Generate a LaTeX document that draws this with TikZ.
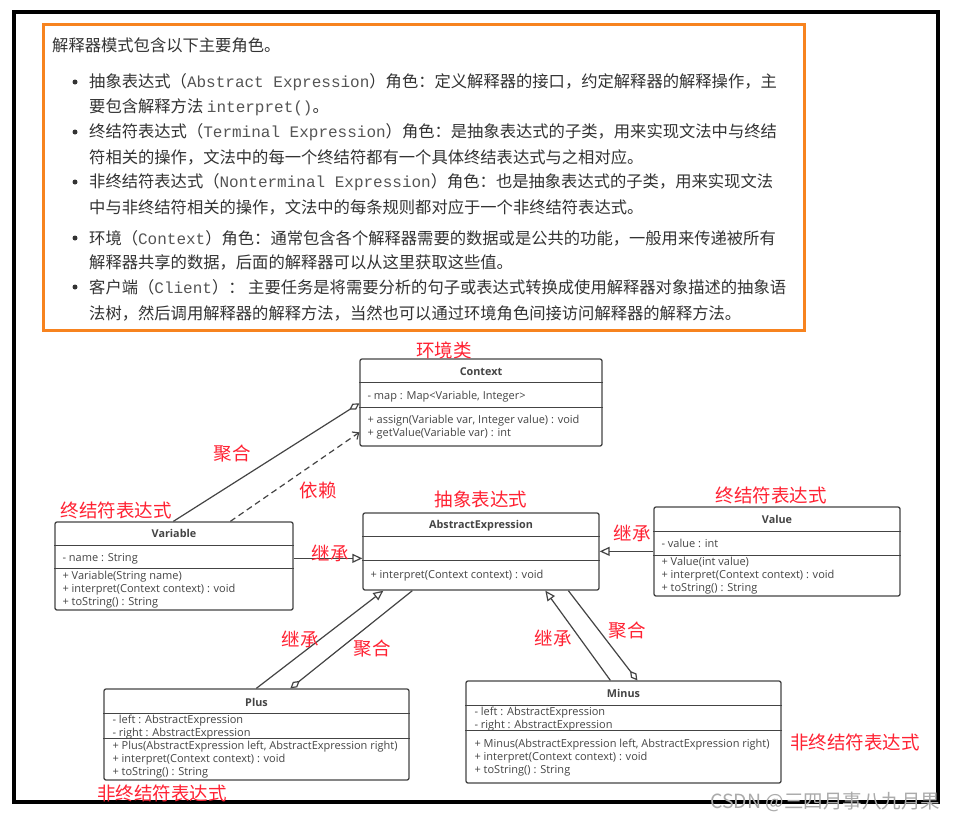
\documentclass[tikz,border=0pt]{standalone}
\usepackage{fontspec}
\setmainfont{Noto Sans CJK SC}
\newfontfamily\umlfont{Open Sans}
\newfontfamily\codefont{Liberation Mono}
\usepackage{tikz}
\usetikzlibrary{arrows.meta, positioning, calc}
\definecolor{FrameOrange}{HTML}{F7831F}
\definecolor{TextGray}{HTML}{333333}
\definecolor{CodeGray}{HTML}{555555}
\definecolor{LineGray}{HTML}{444444}
\definecolor{NoteRed}{HTML}{FF2233}
\definecolor{MarkGray}{HTML}{ABABAB}
\newcommand{\code}[1]{{\codefont\fontsize{16}{18}\selectfont\color{CodeGray}#1}}

\begin{document}
\begin{tikzpicture}[x=1pt, y=-1pt,
  para/.style={anchor=west, inner sep=0pt, text=TextGray,
    font=\fontsize{16.3}{18}\selectfont},
  dot/.style={circle, fill=TextGray, inner sep=0pt, minimum size=5pt},
  umlclass/.style={draw=LineGray, line width=1.3pt, rounded corners=2pt,
    fill=white, inner sep=0pt},
  title/.style={font=\umlfont\bfseries\fontsize{10.8}{13}\selectfont,
    text=LineGray, inner sep=0pt},
  member/.style={anchor=west, align=left, inner sep=0pt, text=LineGray,
    font=\umlfont\fontsize{11}{13}\selectfont},
  note/.style={text=NoteRed, inner sep=0pt, font=\fontsize{18.5}{20}\selectfont},
  rel/.style={draw=LineGray, line width=1.2pt},
  inherit/.style={rel, -{Triangle[open, length=10pt, width=9pt]}},
  aggr/.style={rel, -{Diamond[open, length=12pt, width=7pt]}},
  depend/.style={rel, dash pattern=on 6pt off 4pt,
    -{Straight Barb[length=5pt, width=9pt]}}
]
\useasboundingbox[fill=white] (0,0) rectangle (957,822);

% Outer frame and role list
\draw[black, line width=4pt] (14,12) rectangle (938,802);
\draw[FrameOrange, line width=3pt] (43,24) rectangle (804,330);

\node[para] (intro) at (52,45) {解释器模式包含以下主要角色。};

\node[dot] (b1) at (75,82) {};
\node[para] (r1a) at (89,82) {抽象表达式（\code{Abstract Expression}）角色：定义解释器的接口，约定解释器的解释操作，主};
\node[para] (r1b) at (89,107) {要包含解释方法 \code{interpret()}。};
\node[dot] (b2) at (75,132) {};
\node[para] (r2a) at (89,132) {终结符表达式（\code{Terminal Expression}）角色：是抽象表达式的子类，用来实现文法中与终结};
\node[para] (r2b) at (89,157) {符相关的操作，文法中的每一个终结符都有一个具体终结表达式与之相对应。};
\node[dot] (b3) at (75,182) {};
\node[para] (r3a) at (89,182) {非终结符表达式（\code{Nonterminal Expression}）角色：也是抽象表达式的子类，用来实现文法};
\node[para] (r3b) at (89,207) {中与非终结符相关的操作，文法中的每条规则都对应于一个非终结符表达式。};
\node[dot] (b4) at (75,238) {};
\node[para] (r4a) at (89,238) {环境（\code{Context}）角色：通常包含各个解释器需要的数据或是公共的功能，一般用来传递被所有};
\node[para] (r4b) at (89,262) {解释器共享的数据，后面的解释器可以从这里获取这些值。};
\node[dot] (b5) at (75,287) {};
\node[para] (r5a) at (89,287) {客户端（\code{Client}）： 主要任务是将需要分析的句子或表达式转换成使用解释器对象描述的抽象语};
\node[para] (r5b) at (89,313) {法树，然后调用解释器的解释方法，当然也可以通过环境角色间接访问解释器的解释方法。};

% Classes
\node[umlclass, minimum width=242, minimum height=87] (context) at (481,402.5) {};
\draw[rel] ([yshift=-24]context.north west) -- ([yshift=-24]context.north east);
\draw[rel] ([yshift=-49]context.north west) -- ([yshift=-49]context.north east);
\node[title] (contextname) at ([yshift=-13]context.north) {Context};
\node[member] (contextattr) at ([xshift=8, yshift=-38]context.north west)
  {- map : Map<Variable, Integer>};
\node[member] (contextops) at ([xshift=8, yshift=-69]context.north west)
  {+ assign(Variable var, Integer value) : void\\+ getValue(Variable var) : int};

\node[umlclass, minimum width=238, minimum height=88] (variable) at (174,566) {};
\draw[rel] ([yshift=-24]variable.north west) -- ([yshift=-24]variable.north east);
\draw[rel] ([yshift=-47]variable.north west) -- ([yshift=-47]variable.north east);
\node[title] (variablename) at ([yshift=-12]variable.north) {Variable};
\node[member] (variableattr) at ([xshift=8, yshift=-37]variable.north west)
  {- name : String};
\node[member] (variableops) at ([xshift=8, yshift=-68]variable.north west)
  {+ Variable(String name)\\+ interpret(Context context) : void\\+ toString() : String};

\node[umlclass, minimum width=236, minimum height=77] (abstractexp) at (481,551.5) {};
\draw[rel] ([yshift=-24]abstractexp.north west) -- ([yshift=-24]abstractexp.north east);
\draw[rel] ([yshift=-48]abstractexp.north west) -- ([yshift=-48]abstractexp.north east);
\node[title] (abstractname) at ([yshift=-13]abstractexp.north) {AbstractExpression};
\node[member] (abstractops) at ([xshift=8, yshift=-63]abstractexp.north west)
  {+ interpret(Context context) : void};

\node[umlclass, minimum width=246, minimum height=89] (value) at (777,551.5) {};
\draw[rel] ([yshift=-25]value.north west) -- ([yshift=-25]value.north east);
\draw[rel] ([yshift=-49]value.north west) -- ([yshift=-49]value.north east);
\node[title] (valuename) at ([yshift=-13]value.north) {Value};
\node[member] (valueattr) at ([xshift=8, yshift=-37]value.north west)
  {- value : int};
\node[member] (valueops) at ([xshift=8, yshift=-69]value.north west)
  {+ Value(int value)\\+ interpret(Context context) : void\\+ toString() : String};

\node[umlclass, minimum width=305, minimum height=91] (plus) at (256.5,734.5) {};
\draw[rel] ([yshift=-25]plus.north west) -- ([yshift=-25]plus.north east);
\draw[rel] ([yshift=-50]plus.north west) -- ([yshift=-50]plus.north east);
\node[title] (plusname) at ([yshift=-14]plus.north) {Plus};
\node[member] (plusattr) at ([xshift=9, yshift=-39]plus.north west)
  {- left : AbstractExpression\\- right : AbstractExpression};
\node[member] (plusops) at ([xshift=9, yshift=-71]plus.north west)
  {+ Plus(AbstractExpression left, AbstractExpression right)\\+ interpret(Context context) : void\\+ toString() : String};

\node[umlclass, minimum width=315, minimum height=102] (minus) at (623.5,732) {};
\draw[rel] ([yshift=-25]minus.north west) -- ([yshift=-25]minus.north east);
\draw[rel] ([yshift=-50]minus.north west) -- ([yshift=-50]minus.north east);
\node[title] (minusname) at ([yshift=-13]minus.north) {Minus};
\node[member] (minusattr) at ([xshift=9, yshift=-39]minus.north west)
  {- left : AbstractExpression\\- right : AbstractExpression};
\node[member] (minusops) at ([xshift=9, yshift=-77]minus.north west)
  {+ Minus(AbstractExpression left, AbstractExpression right)\\+ interpret(Context context) : void\\+ toString() : String};

% Relations
\draw[aggr] ([xshift=119]variable.north west) -- ([yshift=-45]context.north west);
\draw[depend] ([xshift=176]variable.north west) -- ([yshift=-74]context.north west);
\draw[inherit] ([yshift=-37]variable.north east) -- ([yshift=-46]abstractexp.north west);
\draw[inherit] ([yshift=-45]value.north west) -- ([yshift=-39]abstractexp.north east);
\draw[inherit] ([xshift=153]plus.north west) -- ([xshift=21]abstractexp.south west);
\draw[aggr] ([xshift=50]abstractexp.south west) -- ([xshift=187]plus.north west);
\draw[inherit] ([xshift=145]minus.north west) -- ([xshift=183]abstractexp.south west);
\draw[aggr] ([xshift=206]abstractexp.south west) -- ([xshift=172]minus.north west);

% Notes
\node[note] (n1) at (444,350) {环境类};
\node[note] (n2) at (232,454) {聚合};
\node[note] (n3) at (318,490) {依赖};
\node[note] (n4) at (116,510) {终结符表达式};
\node[note] (n5) at (330,553) {继承};
\node[note] (n6) at (481,499) {抽象表达式};
\node[note] (n7) at (771,495) {终结符表达式};
\node[note] (n8) at (632,533) {继承};
\node[note] (n9) at (300,639) {继承};
\node[note] (n10) at (372,649) {聚合};
\node[note] (n11) at (553,638) {继承};
\node[note] (n12) at (627,631) {聚合};
\node[note] (n13) at (855,742) {非终结符表达式};
\node[note] (n14) at (162,793) {非终结符表达式};

% Watermark
\node[text=MarkGray, anchor=west, inner sep=0pt, font=\fontsize{19.5}{21}\selectfont]
  (mark) at (710,802) {CSDN @三四月事八九月果};

\end{tikzpicture}
\end{document}
